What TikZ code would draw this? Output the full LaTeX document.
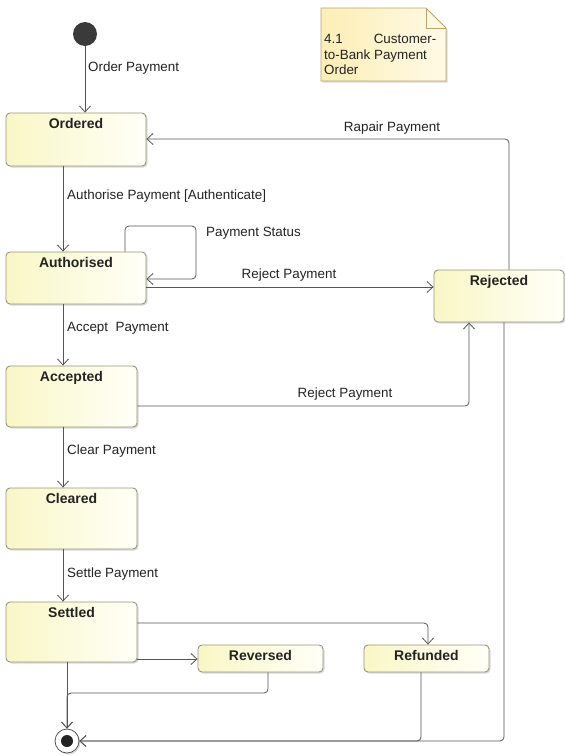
\documentclass[tikz,border=0pt]{standalone}
\usepackage{fontspec}
\setmainfont{Liberation Sans}
\usetikzlibrary{arrows.meta,shadows,calc}
\definecolor{linegray}{RGB}{85,85,85}
\definecolor{boxedge}{RGB}{150,150,120}
\definecolor{boxfillA}{RGB}{249,247,198}
\definecolor{boxfillB}{RGB}{255,255,248}
\definecolor{notefillA}{RGB}{252,238,182}
\definecolor{notefillB}{RGB}{255,250,230}
\definecolor{noteedge}{RGB}{185,165,105}
\definecolor{inkgray}{RGB}{35,35,35}
\definecolor{startfill}{RGB}{58,58,58}

\begin{document}
\begin{tikzpicture}[x=1pt,y=-1pt,
  statebox/.style={draw=boxedge, line width=0.9pt, rounded corners=4pt,
    left color=boxfillA, right color=boxfillB,
    drop shadow={shadow xshift=1.5pt, shadow yshift=-1.5pt, opacity=0.3},
    inner sep=0pt},
  statetitle/.style={font=\fontsize{14}{16}\selectfont\bfseries, text=inkgray, inner sep=0pt},
  trans/.style={draw=linegray, line width=0.8pt, rounded corners=4pt,
    -{Straight Barb[length=6pt,width=11pt]}},
  tlabel/.style={font=\fontsize{13.4}{15}\selectfont, text=inkgray, inner sep=0pt},
]
\useasboundingbox (0,0) rectangle (565,756);

% initial and final pseudo-states
\node[circle, fill=startfill, minimum size=24pt, inner sep=0pt] (init) at (85,34) {};
\node[circle, draw=linegray, line width=0.8pt, fill=white, minimum size=24pt, inner sep=0pt,
      drop shadow={shadow xshift=1.5pt, shadow yshift=-1.5pt, opacity=0.3}] (final) at (67,741) {};
\node[circle, fill=inkgray, minimum size=12pt, inner sep=0pt] (finaldot) at (final) {};

% states
\node[statebox, minimum width=140pt, minimum height=53pt,
  label={[statetitle, anchor=north, yshift=-6pt]north:Ordered}] (ordered) at (76,139.5) {};
\node[statebox, minimum width=140pt, minimum height=52pt,
  label={[statetitle, anchor=north, yshift=-6pt]north:Authorised}] (authorised) at (76,278) {};
\node[statebox, minimum width=130pt, minimum height=52pt,
  label={[statetitle, anchor=north, yshift=-6pt]north:Rejected}] (rejected) at (499,296) {};
\node[statebox, minimum width=131pt, minimum height=61pt,
  label={[statetitle, anchor=north, yshift=-6pt]north:Accepted}] (accepted) at (71.5,396.5) {};
\node[statebox, minimum width=131pt, minimum height=61pt,
  label={[statetitle, anchor=north, yshift=-6pt]north:Cleared}] (cleared) at (71.5,518.5) {};
\node[statebox, minimum width=131pt, minimum height=60pt,
  label={[statetitle, anchor=north, yshift=-6pt]north:Settled}] (settled) at (71.5,632) {};
\node[statebox, minimum width=125pt, minimum height=27pt,
  label={[statetitle, anchor=north, yshift=-6pt]north:Reversed}] (reversed) at (260.5,658.5) {};
\node[statebox, minimum width=125pt, minimum height=27pt,
  label={[statetitle, anchor=north, yshift=-6pt]north:Refunded}] (refunded) at (426.5,658.5) {};

% note with folded corner
\path[draw=noteedge, line width=0.8pt, left color=notefillA, right color=notefillB,
      drop shadow={shadow xshift=1.5pt, shadow yshift=-1.5pt, opacity=0.3}]
  (321,8) -- (426,8) -- (446,28) -- (446,81) -- (321,81) -- cycle;
\draw[noteedge, line width=0.8pt] (426,8) -- (426,28) -- (446,28);
\node[tlabel, anchor=north west, align=left, font=\fontsize{13.4}{15.5}\selectfont] (notetext) at (324,34)
  {4.1\hspace{31pt}Customer-\\to-Bank Payment\\Order};

% routing points
\coordinate (colA) at (63,0);
\coordinate (loopTL) at (125,226);
\coordinate (loopBR) at (196,279);
\coordinate (rejA) at (0,287);
\coordinate (rejB) at (469,406);
\coordinate (rep) at (509,139);
\coordinate (rejF) at (504,741);
\coordinate (refF) at (421,741);
\coordinate (setR) at (428,623);
\coordinate (setV) at (0,659);
\coordinate (revF) at (268,693);

% transitions
\draw[trans] (init.south) -- (init.south |- ordered.north);
\draw[trans] (ordered.south -| colA) -- (authorised.north -| colA);
\draw[trans] (authorised.south -| colA) -- (accepted.north -| colA);
\draw[trans] (accepted.south -| colA) -- (cleared.north -| colA);
\draw[trans] (cleared.south -| colA) -- (settled.north -| colA);
\draw[trans] (authorised.north -| loopTL) -- (loopTL) -- (loopBR |- loopTL) -- (loopBR) -- (authorised.east |- loopBR);
\draw[trans] (authorised.east |- rejA) -- (rejected.west |- rejA);
\draw[trans] (accepted.east |- rejB) -- (rejB) -- (rejected.south -| rejB);
\draw[trans] (rejected.north -| rep) -- (rep) -- (ordered.east |- rep);
\draw[trans] (rejected.south -| rejF) -- (rejF) -- (final.east);
\draw[trans] (refunded.south -| refF) -- (refF) -- (final.east);
\draw[trans] (settled.east |- setR) -- (setR) -- (refunded.north -| setR);
\draw[trans] (settled.east |- setV) -- (reversed.west |- setV);
\draw[trans] (settled.south -| final) -- (final.north);
\draw[trans] (reversed.south -| revF) -- (revF) -- (final.north |- revF) -- (final.north);

% transition labels
\node[tlabel, anchor=west] (lblorder) at (88,68) {Order Payment};
\node[tlabel, anchor=west] (lblauth) at (67,196) {Authorise Payment [Authenticate]};
\node[tlabel, anchor=west] (lblstatus) at (206,233) {Payment Status};
\node[tlabel] (lblrejA) at (289,275) {Reject Payment};
\node[tlabel, anchor=west] (lblaccept) at (67,328) {Accept\ \ Payment};
\node[tlabel] (lblrejB) at (345,394) {Reject Payment};
\node[tlabel] (lblrepair) at (392,128) {Rapair Payment};
\node[tlabel, anchor=west] (lblclear) at (67,451) {Clear Payment};
\node[tlabel, anchor=west] (lblsettle) at (67,574) {Settle Payment};
\end{tikzpicture}
\end{document}
